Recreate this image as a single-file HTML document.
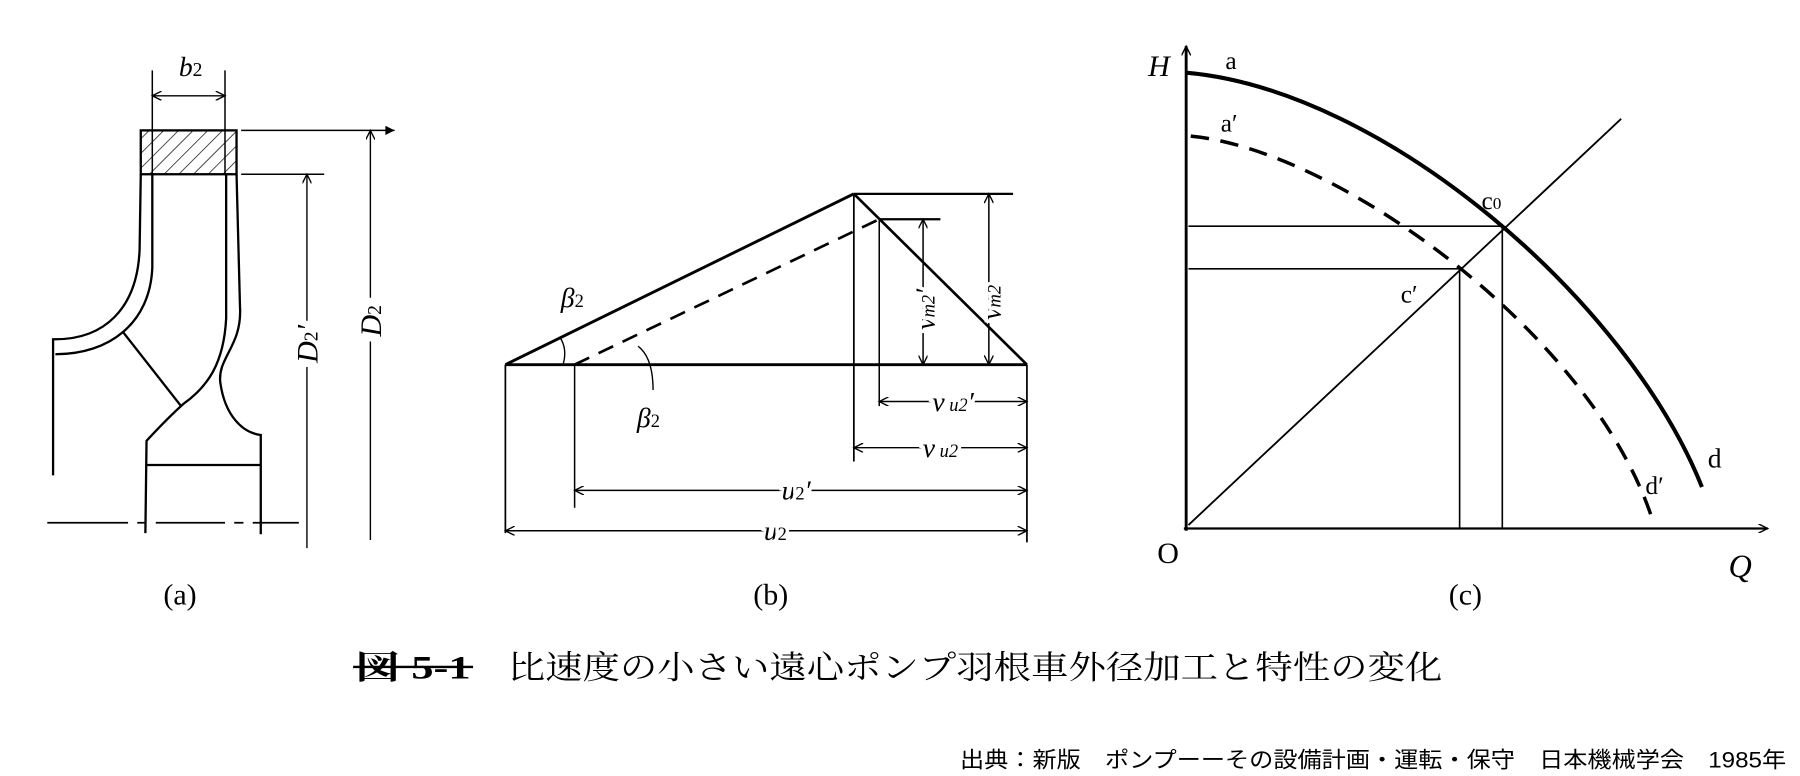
<!DOCTYPE html>
<html><head><meta charset="utf-8"><style>
html,body{margin:0;padding:0;background:#fff;width:1800px;height:776px;overflow:hidden}
svg{display:block}
text{font-family:"Liberation Serif","Noto Serif CJK SC",serif;fill:#000}
.jp{font-family:"Liberation Sans","Noto Sans CJK JP",sans-serif}
.jm{font-family:"Liberation Serif","Noto Serif CJK SC",serif}
</style></head><body>
<svg width="1800" height="776" viewBox="0 0 1560 672.5" preserveAspectRatio="none" xmlns="http://www.w3.org/2000/svg">
<defs>
<marker id="ar" viewBox="0 0 10 10" refX="10" refY="5" markerWidth="12" markerHeight="8" orient="auto-start-reverse" markerUnits="userSpaceOnUse"><path d="M0,0 L10,5 L0,10" fill="none" stroke="#000" stroke-width="1.5"/></marker>
<marker id="af" viewBox="0 0 10 10" refX="10" refY="5" markerWidth="14" markerHeight="8" orient="auto" markerUnits="userSpaceOnUse"><path d="M0,0 L10,5 L0,10 z" fill="#000"/></marker>
<pattern id="hatch" patternUnits="userSpaceOnUse" width="9" height="9" patternTransform="rotate(45)"><line x1="0" y1="0" x2="0" y2="9" stroke="#000" stroke-width="1.2"/></pattern>
</defs>
<g fill="none" stroke="#000" stroke-width="2">
<!-- (a) -->
<line x1="132" y1="61" x2="132" y2="152" stroke-width="1.3"/>
<line x1="195" y1="61" x2="195" y2="152" stroke-width="1.3"/>
<line x1="132" y1="83" x2="195" y2="83" stroke-width="1.2" marker-start="url(#ar)" marker-end="url(#ar)"/>
<rect x="122" y="113" width="83" height="38" fill="url(#hatch)"/>
<line x1="209" y1="113" x2="342" y2="113" stroke-width="1.3" marker-end="url(#af)"/>
<line x1="209" y1="151" x2="281" y2="151" stroke-width="1.3"/>
<line x1="321" y1="113" x2="321" y2="258" stroke-width="1.2" marker-start="url(#ar)"/>
<line x1="321" y1="296" x2="321" y2="468" stroke-width="1.2"/>
<line x1="266" y1="151" x2="266" y2="278" stroke-width="1.2" marker-start="url(#ar)"/>
<line x1="266" y1="318" x2="266" y2="475" stroke-width="1.2"/>
<path d="M122,151 L121,216 C119,268 90,294 48,294 L46,294 L46,412"/>
<path d="M132,151 L132,232 C130,280 95,307 48,307"/>
<path d="M205,151 L208,266 C210,300 188,310 191,332 C195,360 210,375 226,377 L226,463"/>
<path d="M196,151 L196,276 C194,315 180,335 159,350 C150,358 140,368 127,382 L126,462"/>
<line x1="106" y1="287" x2="157" y2="352"/>
<line x1="126" y1="403" x2="226" y2="403"/>
<line x1="41" y1="453" x2="302" y2="453" stroke-width="1.5" stroke-dasharray="70,8,8,8,60,8,8,8,40"/>
<!-- (b) -->
<line x1="438" y1="316" x2="890" y2="316" stroke-width="2.5"/>
<line x1="438" y1="316" x2="740" y2="168" stroke-width="2.5"/>
<line x1="740" y1="168" x2="878" y2="168"/>
<line x1="762" y1="190" x2="815" y2="190"/>
<line x1="498" y1="316" x2="762" y2="190" stroke-width="2.3" stroke-dasharray="14,9"/>
<line x1="740" y1="168" x2="890" y2="316" stroke-width="2.3"/>
<line x1="740" y1="168" x2="740" y2="400" stroke-width="1.5"/>
<line x1="762" y1="190" x2="762" y2="352" stroke-width="1.3"/>
<line x1="498" y1="316" x2="498" y2="440" stroke-width="1.3"/>
<line x1="438" y1="316" x2="438" y2="462" stroke-width="1.5"/>
<line x1="890" y1="316" x2="890" y2="470" stroke-width="1.5"/>
<line x1="857" y1="168" x2="857" y2="316" stroke-width="1.3" marker-start="url(#ar)" marker-end="url(#ar)"/>
<line x1="800" y1="190" x2="800" y2="316" stroke-width="1.3" marker-start="url(#ar)" marker-end="url(#ar)"/>
<line x1="762" y1="348" x2="890" y2="348" stroke-width="1.3" marker-start="url(#ar)" marker-end="url(#ar)"/>
<line x1="740" y1="388" x2="890" y2="388" stroke-width="1.2" marker-start="url(#ar)" marker-end="url(#ar)"/>
<line x1="498" y1="425" x2="890" y2="425" stroke-width="1.3" marker-start="url(#ar)" marker-end="url(#ar)"/>
<line x1="438" y1="460" x2="890" y2="460" stroke-width="1.3" marker-start="url(#ar)" marker-end="url(#ar)"/>
<path d="M485,292 Q492,302 488,316" stroke-width="1.2"/>
<path d="M553,300 Q566,310 566,338" stroke-width="1.2"/>
<!-- (c) -->
<line x1="1028" y1="460" x2="1028" y2="40" stroke-width="2.5" marker-end="url(#ar)"/>
<line x1="1026" y1="458" x2="1532" y2="458" stroke-width="2" marker-end="url(#ar)"/>
<path d="M1028,63 C1200,78 1410,260 1475,422" stroke-width="3.5"/>
<path d="M1032,118 C1160,130 1380,290 1432,450" stroke-width="3" stroke-dasharray="16,10"/>
<line x1="1030" y1="455" x2="1405" y2="103" stroke-width="1.6"/>
<line x1="1030" y1="196" x2="1302" y2="196" stroke-width="1.4"/>
<line x1="1030" y1="233" x2="1265" y2="233" stroke-width="1.4"/>
<line x1="1302" y1="196" x2="1302" y2="458" stroke-width="1.4"/>
<line x1="1265" y1="233" x2="1265" y2="458" stroke-width="1.4"/>
</g>
<!-- labels (a) -->
<text x="155" y="66" font-size="24" font-style="italic">b<tspan font-size="17" font-style="normal">2</tspan></text>
<text transform="translate(330,278) rotate(-90)" font-size="26" font-style="italic" text-anchor="middle">D<tspan font-size="17" font-style="normal">2</tspan></text>
<text transform="translate(275,298) rotate(-90)" font-size="26" font-style="italic" text-anchor="middle">D<tspan font-size="17" font-style="normal">2</tspan>′</text>
<text x="156" y="524" font-size="26" text-anchor="middle">(a)</text>
<!-- (b) -->
<text x="486" y="266" font-size="24" font-style="italic">β<tspan font-size="16" font-style="normal">2</tspan></text>
<text x="552" y="370" font-size="24" font-style="italic">β<tspan font-size="16" font-style="normal">2</tspan></text>
<text transform="translate(867,262) rotate(-90)" font-size="24" font-style="italic" text-anchor="middle" stroke="#fff" stroke-width="6" paint-order="stroke">v<tspan font-size="16">m2</tspan></text>
<text transform="translate(810,268) rotate(-90)" font-size="24" font-style="italic" text-anchor="middle" stroke="#fff" stroke-width="6" paint-order="stroke">v<tspan font-size="16">m2</tspan>′</text>
<text x="826" y="356" font-size="24" font-style="italic" text-anchor="middle" stroke="#fff" stroke-width="6" paint-order="stroke">v<tspan font-size="16"> u2</tspan>′</text>
<text x="815" y="396" font-size="24" font-style="italic" text-anchor="middle" stroke="#fff" stroke-width="6" paint-order="stroke">v<tspan font-size="16"> u2</tspan></text>
<text x="690" y="433" font-size="24" font-style="italic" text-anchor="middle" stroke="#fff" stroke-width="6" paint-order="stroke">u<tspan font-size="16" font-style="normal">2</tspan>′</text>
<text x="672" y="468" font-size="24" font-style="italic" text-anchor="middle" stroke="#fff" stroke-width="6" paint-order="stroke">u<tspan font-size="16" font-style="normal">2</tspan></text>
<text x="668" y="524" font-size="26" text-anchor="middle">(b)</text>
<!-- (c) -->
<text x="995" y="66" font-size="26" font-style="italic">H</text>
<text x="1062" y="60" font-size="22">a</text>
<text x="1058" y="114" font-size="22">a′</text>
<text x="1284" y="181" font-size="22">c<tspan font-size="15">0</tspan></text>
<text x="1214" y="262" font-size="22">c′</text>
<text x="1480" y="405" font-size="24">d</text>
<text x="1426" y="428" font-size="22">d′</text>
<text x="1003" y="488" font-size="26">O</text>
<text x="1498" y="500" font-size="28" font-style="italic">Q</text>
<text x="1270" y="524" font-size="26" text-anchor="middle">(c)</text>
<!-- caption -->
<text x="308" y="588" font-size="28" class="jm" font-weight="bold" textLength="100" lengthAdjust="spacingAndGlyphs">図 5-1</text>
<line x1="306" y1="578" x2="410" y2="578" stroke="#000" stroke-width="2"/>
<text x="440" y="588" font-size="28" class="jm" textLength="810" lengthAdjust="spacingAndGlyphs">比速度の小さい遠心ポンプ羽根車外径加工と特性の変化</text>
<text x="832" y="665" font-size="19" class="jp" textLength="716" lengthAdjust="spacingAndGlyphs">出典：新版　ポンプーーその設備計画・運転・保守　日本機械学会　1985年</text>
</svg>
</body></html>
